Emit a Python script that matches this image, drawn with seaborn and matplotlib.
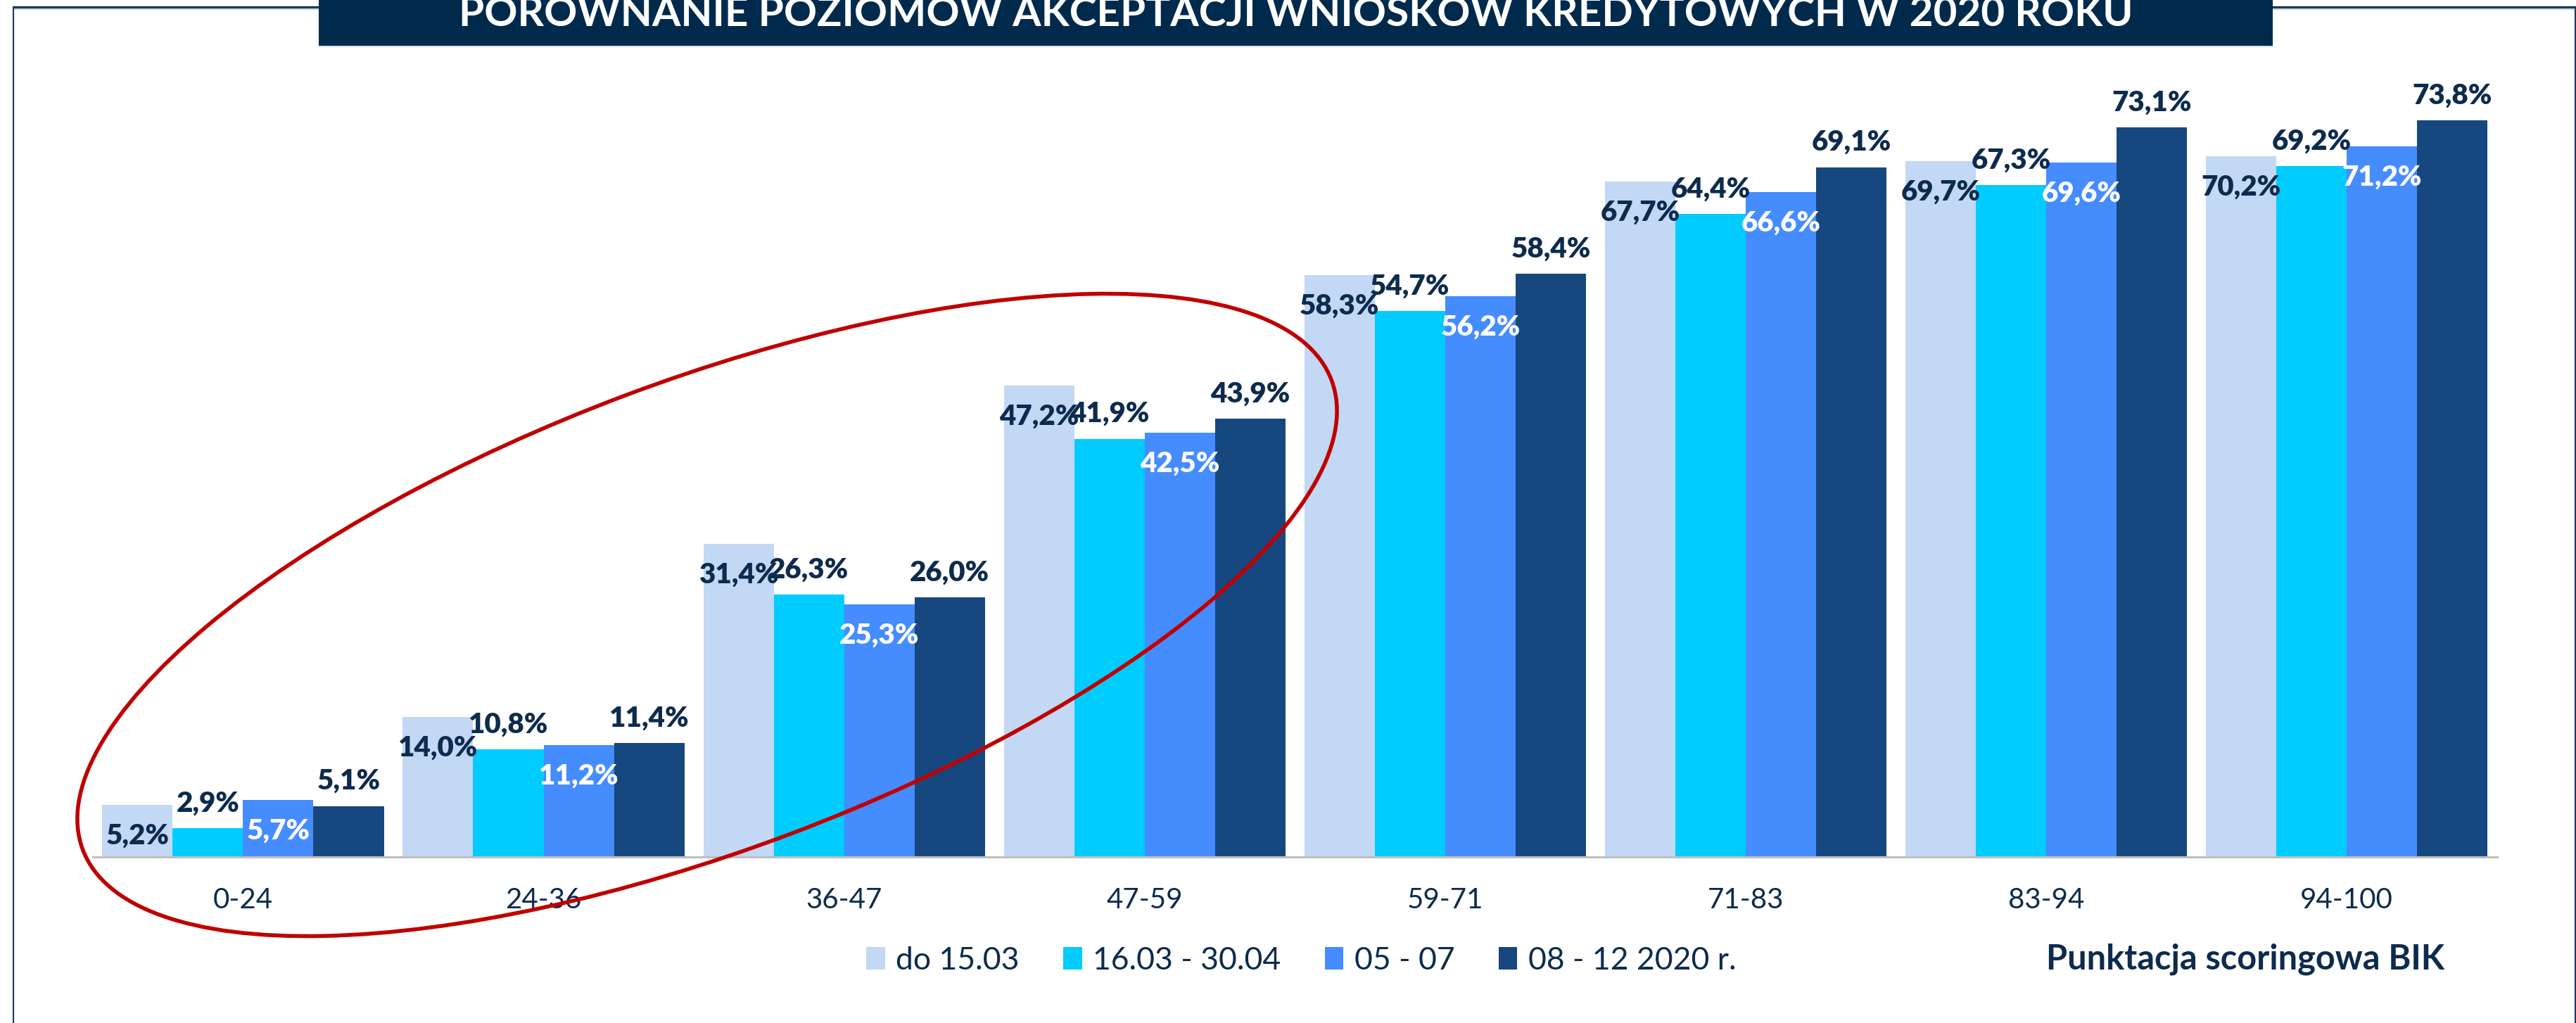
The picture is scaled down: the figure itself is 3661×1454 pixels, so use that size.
import matplotlib
matplotlib.use("Agg")
import matplotlib.pyplot as plt
import matplotlib.transforms as mtransforms
from matplotlib.patches import Ellipse, Rectangle
from matplotlib.lines import Line2D
import pandas as pd
import seaborn as sns

# Dane z wykresu BIK
przedzialy = ["0-24", "24-36", "36-47", "47-59", "59-71", "71-83", "83-94", "94-100"]
okresy = ["do 15.03", "16.03 - 30.04", "05 - 07", "08 - 12 2020 r."]
do_1503 = [5.2, 14.0, 31.4, 47.2, 58.3, 67.7, 69.7, 70.2]
od_1603_do_3004 = [2.9, 10.8, 26.3, 41.9, 54.7, 64.4, 67.3, 69.2]
od_05_do_07 = [5.7, 11.2, 25.3, 42.5, 56.2, 66.6, 69.6, 71.2]
od_08_do_12 = [5.1, 11.4, 26.0, 43.9, 58.4, 69.1, 73.1, 73.8]

kolory = ["#C2D8F4", "#00CCFF", "#458CFF", "#16477F"]
granat = "#0D2B4D"

df = pd.DataFrame({
    "przedzial": przedzialy * 4,
    "okres": [o for o in okresy for _ in przedzialy],
    "wartosc": do_1503 + od_1603_do_3004 + od_05_do_07 + od_08_do_12,
})

sns.set_style("white")
plt.rcParams["font.family"] = ["Lato", "DejaVu Sans"]

fig = plt.figure(figsize=(36.62, 14.54), dpi=100)
ax = fig.add_axes([0.0360, 0.1623, 0.9331, 0.7806])
ax.patch.set_visible(False)

sns.barplot(data=df, x="przedzial", y="wartosc", hue="okres", order=przedzialy,
            hue_order=okresy, palette=kolory, width=0.937, saturation=1, gap=0,
            errorbar=None, linewidth=0, ax=ax)

ax.set_ylim(0, 80)
ax.set_xlim(-0.5, 7.5)
ax.set_xlabel("")
ax.set_ylabel("")
ax.set_yticks([])
sns.despine(ax=ax, left=True)
ax.spines["bottom"].set_color("#BFBFBF")
ax.spines["bottom"].set_linewidth(2.2)
ax.tick_params(axis="x", length=0, pad=31, labelsize=29, labelcolor=granat)

# etykiety: jasne i srednie w srodku, pozostale nad slupkiem
for i, kont in enumerate(ax.containers):
    w_srodku = i in (0, 2)
    kolor = "white" if i == 2 else granat
    for bar, v in zip(kont, [do_1503, od_1603_do_3004, od_05_do_07, od_08_do_12][i]):
        ax.annotate(f"{v:.1f}%".replace(".", ","),
                    (bar.get_x() + bar.get_width() / 2, bar.get_height()),
                    xytext=(0, -40 if w_srodku else 17), textcoords="offset points",
                    ha="center", va="baseline", fontsize=29, fontweight="heavy",
                    color=kolor, zorder=5)

uchwyty, opisy = ax.get_legend_handles_labels()
leg = ax.legend(uchwyty, opisy, ncol=4, loc="center", bbox_to_anchor=(0.505, 0.061),
                bbox_transform=fig.transFigure, frameon=False, fontsize=32,
                handlelength=0.6, handleheight=0.72, handletextpad=0.35,
                columnspacing=1.4)
for t in leg.get_texts():
    t.set_color(granat)

fig.text(0.9487, 0.0523, "Punktacja scoringowa BIK", ha="right", va="baseline",
         fontsize=35, fontweight="bold", color=granat)

# ramka i pasek tytulu
fig.add_artist(Line2D([19 / 3662, 3660 / 3662], [1 - 10 / 1454] * 2,
                      transform=fig.transFigure, color="#1B3A5E", linewidth=2.5))
fig.add_artist(Line2D([19 / 3662, 3660 / 3662], [1 - 13 / 1454] * 2,
                      transform=fig.transFigure, color="#C9D6E6", linewidth=1))
fig.add_artist(Line2D([19 / 3662] * 2, [0, 1 - 10 / 1454],
                      transform=fig.transFigure, color="#1B3A5E", linewidth=1.5))
fig.add_artist(Line2D([3660 / 3662] * 2, [0, 1 - 10 / 1454],
                      transform=fig.transFigure, color="#1B3A5E", linewidth=1.5))
fig.add_artist(Rectangle((453 / 3662, 1 - 65 / 1454), (3230 - 453) / 3662, 65 / 1454,
                         transform=fig.transFigure, facecolor="#002A4C",
                         edgecolor="none", zorder=3))
fig.add_artist(Line2D([453 / 3662, 3230 / 3662], [1 - 66 / 1454] * 2,
                      transform=fig.transFigure, color="#C9D6E6", linewidth=1.2,
                      zorder=3))
fig.text(0.5028, 1 - 37 / 1454,
         "PORÓWNANIE POZIOMÓW AKCEPTACJI WNIOSKÓW KREDYTOWYCH W 2020 ROKU",
         ha="center", va="baseline", fontsize=42, fontweight="bold", color="white",
         zorder=4)

# czerwona elipsa wokol niskich przedzialow
fig.add_artist(Ellipse((1005, 1454 - 874), 1896, 666, angle=20.6,
                       transform=mtransforms.IdentityTransform(), fill=False,
                       edgecolor="#C00000", linewidth=4, zorder=10))

fig.savefig("out.png", dpi=100)
